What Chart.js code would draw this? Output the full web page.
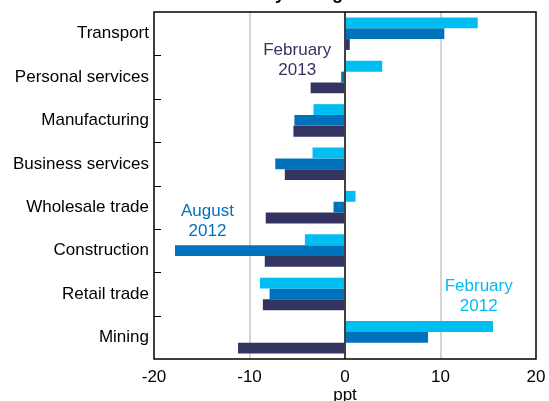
<!DOCTYPE html>
<html>
<head>
<meta charset="utf-8">
<script src="https://cdn.jsdelivr.net/npm/chart.js@4.4.0/dist/chart.umd.min.js"></script>
<style>
  body { margin: 0; background: #fff; }
  #wrap { width: 549px; height: 401px; }
</style>
</head>
<body>
<div id="wrap"><canvas id="chart" width="549" height="401"></canvas></div>
<script>
// Data (percentage points)
const categories = ['Transport', 'Personal services', 'Manufacturing', 'Business services',
  'Wholesale trade', 'Construction', 'Retail trade', 'Mining'];
const feb2012 = [13.9, 3.9, -3.3, -3.4, 1.1, -4.2, -8.9, 15.5];
const aug2012 = [10.4, -0.4, -5.3, -7.3, -1.2, -17.8, -7.9, 8.7];
const feb2013 = [0.5, -3.6, -5.4, -6.3, -8.3, -8.4, -8.6, -11.2];
const xTicks = [-20, -10, 0, 10, 20];

const cyan = '#00bdf2';
const blue = '#0072bc';
const navy = '#343462';
const font = 'Arial, "Liberation Sans", sans-serif';

// series labels placed in the plot, as in the original
const seriesNotes = [
  { lines: ['February', '2013'], color: navy, x: -5.0, y: 0.62 },
  { lines: ['August', '2012'], color: blue, x: -14.4, y: 4.33 },
  { lines: ['February', '2012'], color: cyan, x: 14.0, y: 6.06 }
];

const framePlugin = {
  id: 'frame',
  afterDatasetsDraw(chart) {
    const { ctx, chartArea: a, scales: { x, y } } = chart;
    ctx.save();
    ctx.strokeStyle = '#000';
    ctx.lineWidth = 1.5;
    // zero line over the bars
    const x0 = x.getPixelForValue(0);
    ctx.beginPath();
    ctx.moveTo(x0, a.top);
    ctx.lineTo(x0, a.bottom);
    ctx.stroke();
    // box
    ctx.strokeRect(a.left, a.top, a.right - a.left, a.bottom - a.top);
    // inward ticks between categories
    ctx.lineWidth = 1;
    for (let i = 0; i < categories.length - 1; i++) {
      const py = Math.round(y.getPixelForValue(i + 0.5)) + 0.5;
      ctx.beginPath();
      ctx.moveTo(a.left, py);
      ctx.lineTo(a.left + 7, py);
      ctx.stroke();
    }
    // notes
    ctx.font = '17px ' + font;
    ctx.textAlign = 'center';
    ctx.textBaseline = 'middle';
    seriesNotes.forEach(n => {
      const px = x.getPixelForValue(n.x);
      const py = y.getPixelForValue(n.y);
      ctx.fillStyle = n.color;
      n.lines.forEach((t, i) => {
        ctx.fillText(t, px, py + (i - (n.lines.length - 1) / 2) * 20);
      });
    });
    // title, cut off by the top edge of the picture
    ctx.fillStyle = '#000';
    ctx.font = 'bold 18px ' + font;
    ctx.textAlign = 'left';
    ctx.textBaseline = 'alphabetic';
    const head = 'Six-monthl';
    const left = 280 - ctx.measureText(head).width - ctx.measureText('y').width / 2;
    ctx.fillText('Six-monthly change', left, -1);
    ctx.restore();
  }
};

new Chart(document.getElementById('chart'), {
  type: 'bar',
  data: {
    labels: categories,
    datasets: [
      { label: 'February 2012', data: feb2012, backgroundColor: cyan },
      { label: 'August 2012', data: aug2012, backgroundColor: blue },
      { label: 'February 2013', data: feb2013, backgroundColor: navy }
    ]
  },
  options: {
    indexAxis: 'y',
    responsive: false,
    animation: false,
    layout: { padding: { top: 12, right: 13, left: 0, bottom: 0 } },
    datasets: { bar: { categoryPercentage: 0.75, barPercentage: 1 } },
    plugins: { legend: { display: false }, tooltip: { enabled: false } },
    scales: {
      x: {
        min: -20,
        max: 20,
        afterBuildTicks: s => { s.ticks = xTicks.map(v => ({ value: v })); },
        afterFit: s => { s.height = 42; s.paddingLeft = 0; s.paddingRight = 0; },
        border: { display: false },
        grid: {
          drawTicks: false,
          color: c => (c.tick && Math.abs(c.tick.value) === 10) ? '#d4d4d4' : 'rgba(0,0,0,0)',
          lineWidth: 2
        },
        ticks: { color: '#000', font: { size: 17, family: font }, padding: 8 },
        title: {
          display: true, text: 'ppt', color: '#000',
          font: { size: 17, family: font, lineHeight: 1 },
          padding: { top: 0, bottom: -3 }
        }
      },
      y: {
        afterFit: s => { s.width = 154; s.paddingTop = 0; s.paddingBottom = 0; },
        border: { display: false },
        grid: { display: false, drawTicks: false },
        ticks: { color: '#000', font: { size: 17, family: font }, padding: 5 }
      }
    }
  },
  plugins: [framePlugin]
});
</script>
</body>
</html>
